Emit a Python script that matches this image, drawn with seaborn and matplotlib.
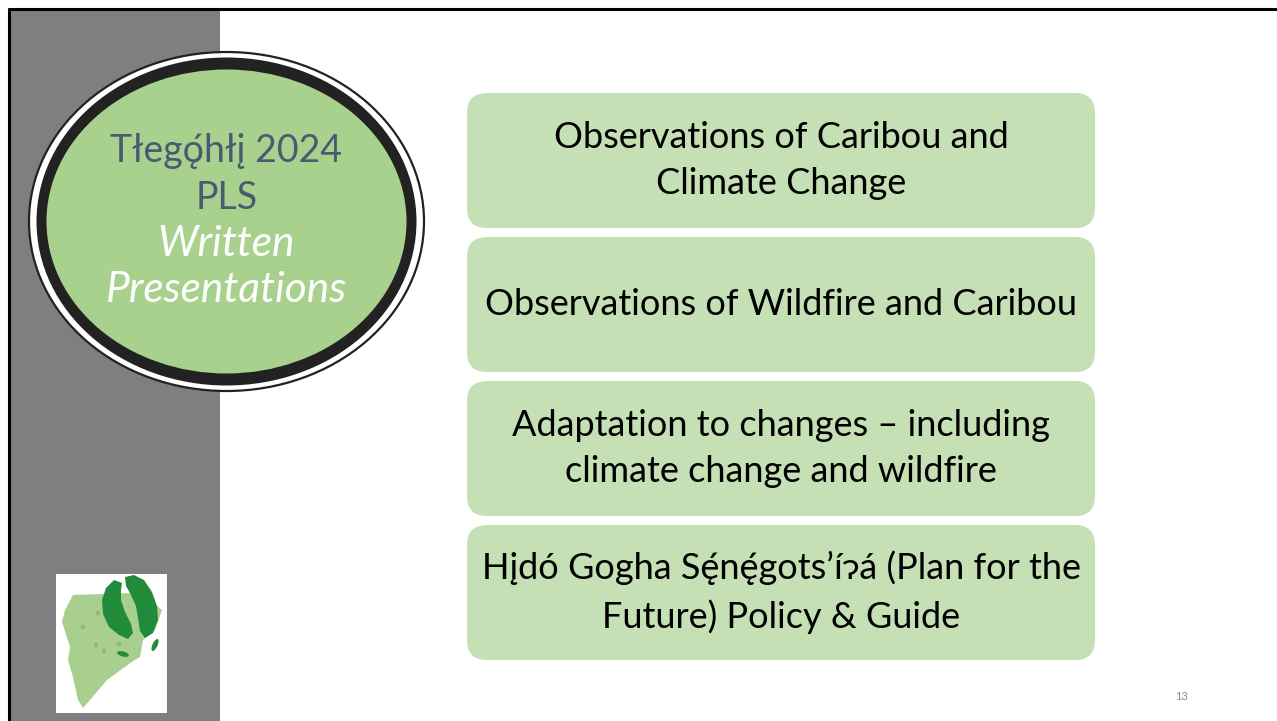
"""
Slide 13 - Tłegǫ́hłį 2024 PLS written presentations.
"""

import matplotlib

matplotlib.use("Agg")
import matplotlib.pyplot as plt
import seaborn as sns
from matplotlib.patches import Ellipse, FancyBboxPatch, Polygon, Rectangle

title_lines = ["Tłegǫ́hłį 2024", "PLS"]
subtitle_lines = ["Written", "Presentations"]
topics = [
    "Observations of Caribou and\nClimate Change",
    "Observations of Wildfire and Caribou",
    "Adaptation to changes – including\nclimate change and wildfire",
    "Hįdó Gogha Sę́nę́gots’íɂá (Plan for the\nFuture) Policy & Guide",
]
page_number = "13"

sns.set_theme(style="white")
plt.rcParams["font.family"] = ["Lato", "Noto Sans", "DejaVu Sans"]

W, H = 1277, 721
fig = plt.figure(figsize=(W / 100, H / 100), dpi=100)
ax = fig.add_axes([0, 0, 1, 1])
ax.set_xlim(0, W)
ax.set_ylim(H, 0)
ax.axis("off")

# frame + grey side band
ax.add_patch(Rectangle((10, 10), 210, H, color="#7f7f7f", lw=0))
ax.plot([9, W], [9, 9], color="black", lw=2.2)
ax.plot([9, 9], [9, H], color="black", lw=2.2)

# title oval
cx, cy = 226.5, 221.5
ax.add_patch(Ellipse((cx, cy), 395, 339, fc="white", ec="#222222", lw=1.6))
ax.add_patch(Ellipse((cx, cy), 380, 328, fc="#222222", lw=0))
ax.add_patch(Ellipse((cx, cy), 360, 304, fc="#a9d18e", lw=0))

for i, line in enumerate(title_lines):
    ax.text(cx, 151 + i * 47, line, ha="center", va="center", fontsize=27,
            color="#4a5a70")
for i, line in enumerate(subtitle_lines):
    ax.text(cx, 244 + i * 46, line, ha="center", va="center", fontsize=30.5,
            color="white", style="italic")

# topic boxes
box_x, box_w, box_h, gap = 467, 628, 135, 9
for i, label in enumerate(topics):
    y0 = 93 + i * (box_h + gap)
    ax.add_patch(FancyBboxPatch((box_x + 20, y0 + 20), box_w - 40, box_h - 40,
                                boxstyle="round,pad=20", fc="#c5e0b4", ec="none"))
    ax.text(box_x + box_w / 2, y0 + box_h / 2, label, ha="center", va="center",
            fontsize=26, color="black", linespacing=1.5)

# logo
ax.add_patch(Rectangle((56, 574), 111, 139, color="white", lw=0))
land = [(73, 595), (133, 593), (150, 600), (162, 610), (155, 630), (143, 640),
        (140, 657), (133, 661), (107, 680), (90, 700), (83, 708), (78, 700),
        (73, 677), (68, 660), (70, 647), (62, 622), (65, 610)]
ax.add_patch(Polygon(land, closed=True, fc="#a9cf8e", ec="none"))
hoof_left = [(114, 580), (106, 588), (102, 600), (103, 614), (109, 627),
             (119, 635), (128, 639), (133, 633), (131, 624), (125, 612),
             (121, 600), (121, 590), (122, 583)]
hoof_right = [(125, 577), (134, 575), (144, 580), (152, 592), (157, 606),
              (158, 620), (153, 633), (145, 638), (140, 631), (138, 618),
              (136, 606), (131, 595), (126, 586)]
ax.add_patch(Polygon(hoof_left, closed=True, fc="#228b3b", ec="none"))
ax.add_patch(Polygon(hoof_right, closed=True, fc="#228b3b", ec="none"))
ax.add_patch(Ellipse((155, 645), 5, 13, angle=25, fc="#228b3b", lw=0))
ax.add_patch(Ellipse((123, 654), 12, 5, angle=15, fc="#228b3b", lw=0))
for dx, dy in [(98, 613), (83, 627), (96, 645), (104, 651), (119, 644)]:
    ax.add_patch(Ellipse((dx, dy), 4.5, 5, fc="#8dbe6a", lw=0))

ax.text(1182, 697, page_number, ha="center", va="center", fontsize=8,
        color="#8c8c8c")

fig.savefig("out.png", dpi=100)
